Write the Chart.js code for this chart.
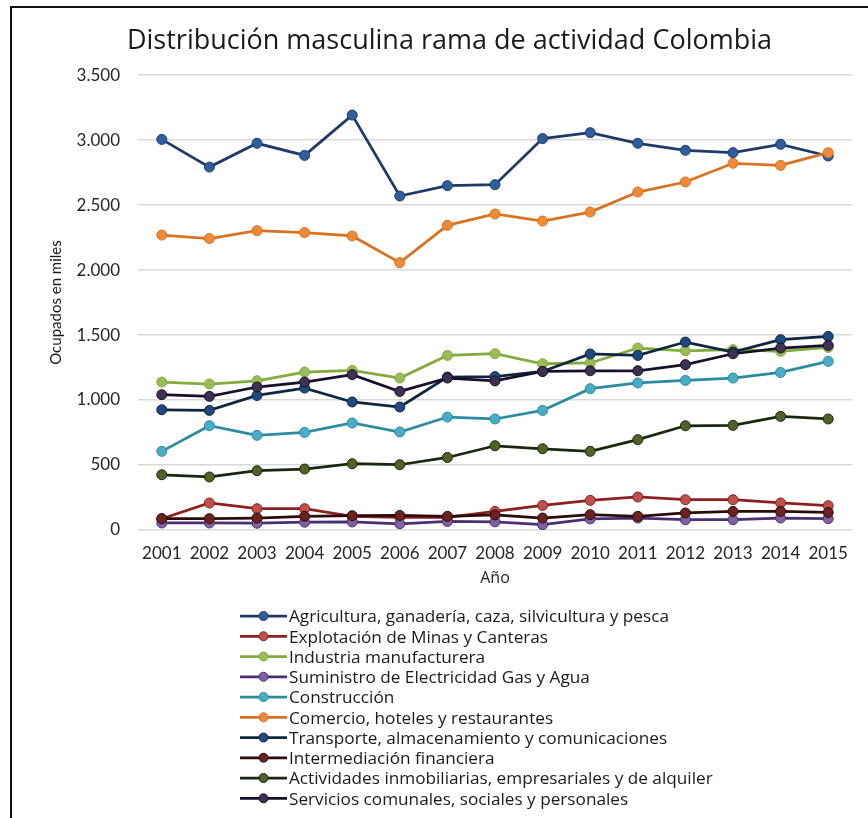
<!DOCTYPE html>
<html lang="es">
<head>
<meta charset="utf-8">
<title>Distribución masculina rama de actividad Colombia</title>
<script src="https://cdn.jsdelivr.net/npm/chart.js@4/dist/chart.umd.min.js"></script>
<style>
  html, body { margin: 0; padding: 0; background: #ffffff; }
  #wrap { position: relative; width: 868px; height: 818px; overflow: hidden; }
  #frame { position: absolute; left: 10px; top: 6px; width: 900px; height: 900px;
           border-left: 2px solid #111; border-top: 2px solid #111; box-sizing: border-box; }
  canvas { position: absolute; left: 0; top: 0; }
</style>
</head>
<body>
<div id="wrap">
  <canvas id="chart" width="868" height="818"></canvas>
  <div id="frame"></div>
</div>
<script>
// Años
const years = ['2001','2002','2003','2004','2005','2006','2007','2008','2009','2010','2011','2012','2013','2014','2015'];

// Ocupados en miles por rama de actividad (hombres)
const agricultura   = [3005, 2792, 2975, 2882, 3192, 2569, 2649, 2657, 3011, 3057, 2975, 2921, 2903, 2967, 2877];
const minas         = [87, 208, 164, 164, 105, 97, 97, 143, 189, 228, 254, 233, 233, 208, 187];
const industria     = [1138, 1123, 1148, 1215, 1228, 1169, 1343, 1356, 1279, 1285, 1400, 1379, 1387, 1374, 1405];
const suministro    = [54, 54, 52, 60, 62, 48, 66, 63, 41, 85, 92, 79, 79, 92, 87];
const construccion  = [605, 802, 728, 751, 823, 754, 869, 854, 920, 1087, 1131, 1151, 1169, 1212, 1297];
const comercio      = [2269, 2242, 2303, 2288, 2262, 2057, 2344, 2431, 2377, 2446, 2600, 2677, 2821, 2805, 2903];
const transporte    = [925, 920, 1035, 1092, 985, 946, 1177, 1180, 1220, 1354, 1343, 1446, 1369, 1464, 1489];
const intermediacion= [87, 87, 92, 105, 110, 112, 105, 116, 92, 118, 105, 131, 143, 143, 135];
const inmobiliarias = [425, 408, 456, 469, 510, 502, 558, 648, 625, 605, 695, 802, 805, 874, 854];
const servicios     = [1041, 1028, 1100, 1138, 1195, 1066, 1169, 1147, 1220, 1225, 1225, 1272, 1356, 1400, 1420];

// Marcas del eje vertical
const yTicks = [0, 500, 1000, 1500, 2000, 2500, 3000, 3500];

const seriesNames = [
  'Agricultura, ganadería, caza, silvicultura y pesca',
  'Explotación de Minas y Canteras',
  'Industria manufacturera',
  'Suministro de Electricidad Gas y Agua',
  'Construcción',
  'Comercio, hoteles y restaurantes',
  'Transporte, almacenamiento y comunicaciones',
  'Intermediación financiera',
  'Actividades inmobiliarias, empresariales y de alquiler',
  'Servicios comunales, sociales y personales'
];
const seriesValues = [agricultura, minas, industria, suministro, construccion,
                      comercio, transporte, intermediacion, inmobiliarias, servicios];
// [color de línea, relleno del marcador]
const seriesColors = [
  ['#1f3a68', '#2f5e9e'],
  ['#8e1f1f', '#c0504d'],
  ['#82ab3c', '#9bbb59'],
  ['#4b2e73', '#7f63a1'],
  ['#2a8ba3', '#4bacc6'],
  ['#d9721e', '#f08a3b'],
  ['#0f2540', '#1f4a7d'],
  ['#2e0b0b', '#6b2220'],
  ['#1b270c', '#4f6228'],
  ['#18102b', '#3f3151']
];

const FONT = 'Lato, "Open Sans", sans-serif';
const WIDE = '"Open Sans", Lato, sans-serif';
const fmt = v => String(v).replace(/\B(?=(\d{3})+(?!\d))/g, '.');

const datasets = seriesNames.map((name, i) => ({
  label: name,
  data: seriesValues[i],
  borderColor: seriesColors[i][0],
  backgroundColor: seriesColors[i][1],
  pointBackgroundColor: seriesColors[i][1],
  pointBorderColor: seriesColors[i][0],
  pointBorderWidth: 1,
  pointRadius: 5,
  borderWidth: 2.75,
  tension: 0,
  fill: false,
  order: seriesNames.length - i
}));

// Leyenda en una sola columna bajo el gráfico
const columnLegend = {
  id: 'columnLegend',
  afterDraw(chart) {
    const ctx = chart.ctx;
    const x0 = 240, x1 = 287, y0 = 616, step = 20.25;
    ctx.save();
    ctx.font = '17.2px ' + WIDE;
    ctx.textBaseline = 'middle';
    ctx.textAlign = 'left';
    chart.data.datasets.forEach((ds, i) => {
      const y = y0 + i * step;
      ctx.strokeStyle = ds.borderColor;
      ctx.lineWidth = 2.75;
      ctx.beginPath();
      ctx.moveTo(x0, y);
      ctx.lineTo(x1, y);
      ctx.stroke();
      ctx.beginPath();
      ctx.arc((x0 + x1) / 2, y, 4.5, 0, Math.PI * 2);
      ctx.fillStyle = ds.pointBackgroundColor;
      ctx.fill();
      ctx.lineWidth = 1;
      ctx.stroke();
      ctx.fillStyle = '#1a1a1a';
      ctx.fillText(ds.label, x1 + 2, y + 1.5);
    });
    ctx.restore();
  }
};

new Chart(document.getElementById('chart'), {
  type: 'line',
  data: { labels: years, datasets },
  options: {
    responsive: false,
    animation: false,
    devicePixelRatio: 1,
    layout: { padding: { left: 47, right: 16, top: 10, bottom: 230 } },
    plugins: {
      legend: { display: false },
      tooltip: { enabled: false },
      title: {
        display: true,
        text: 'Distribución masculina rama de actividad Colombia',
        color: '#1a1a1a',
        font: { family: WIDE, size: 27, weight: 'normal', lineHeight: 1.15 },
        padding: { top: 16, bottom: 18 }
      }
    },
    scales: {
      x: {
        offset: true,
        grid: { display: false, drawTicks: false },
        border: { display: false },
        ticks: { color: '#262626', font: { family: FONT, size: 17 }, padding: 13, maxRotation: 0, autoSkip: false },
        title: { display: true, text: 'Año', color: '#262626', font: { family: WIDE, size: 16, lineHeight: 1.2 }, padding: 0 },
        afterFit(scale) { scale.height = 58; }
      },
      y: {
        min: 0, max: 3500,
        afterBuildTicks(scale) { scale.ticks = yTicks.map(v => ({ value: v })); },
        grid: { color: '#d9d9d9', lineWidth: 1.5, drawTicks: false },
        border: { display: false },
        ticks: { color: '#262626', font: { family: FONT, size: 17 }, padding: 18, callback: v => fmt(v) },
        title: { display: true, text: 'Ocupados en miles', color: '#1a1a1a', font: { family: FONT, size: 15, lineHeight: 1.2 }, padding: 0 },
        afterFit(scale) { scale.width = 91; }
      }
    }
  },
  plugins: [columnLegend]
});
</script>
</body>
</html>
